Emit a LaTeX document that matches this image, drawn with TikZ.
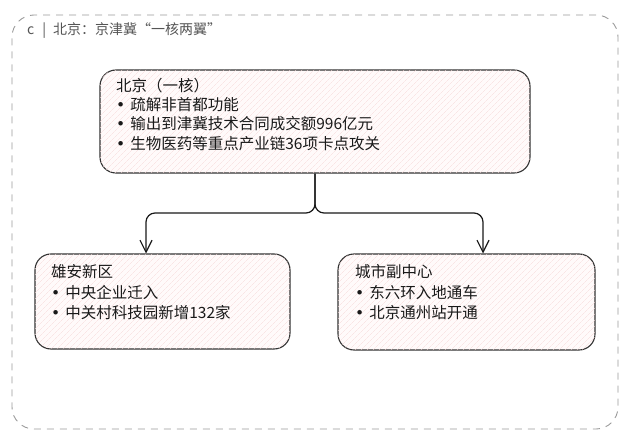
\documentclass[tikz,border=0pt]{standalone}
\usepackage{fontspec}
\setmainfont{Noto Sans CJK SC}
\newfontfamily\bulfont{DejaVu Sans}
\newcommand{\bul}{{\bulfont •}\hspace{5pt}}
\usetikzlibrary{arrows.meta,patterns.meta,calc}
\definecolor{boxline}{HTML}{333333}
\definecolor{hatch}{HTML}{F7DADA}
\definecolor{boxfill}{HTML}{FFFAFA}
\definecolor{frame}{HTML}{9A9A9A}
\definecolor{titlegray}{HTML}{555555}
\tikzset{
  box/.style={draw=boxline, line width=1.1pt, rounded corners=16pt, fill=boxfill,
    postaction={pattern={Lines[angle=45,distance=4pt,line width=0.4pt]}, pattern color=hatch},
    inner sep=0pt},
  boxtext/.style={anchor=north west, inner sep=0pt, align=left, text=black!90,
    font=\fontsize{15.5}{19.2}\selectfont},
  boxtextb/.style={boxtext, font=\fontsize{15.5}{20.5}\selectfont},
  conn/.style={draw=black!90, line width=1.2pt, rounded corners=9pt,
    -{Straight Barb[length=12pt,width=12pt,line width=1.2pt]}},
}
\begin{document}
\begin{tikzpicture}[x=1pt,y=-1pt]
\useasboundingbox (0,0) rectangle (628,435);
\node[draw=frame, dashed, dash pattern=on 7pt off 6pt, line width=0.9pt, rounded corners=22pt,
  minimum width=606pt, minimum height=414pt, inner sep=0pt] (frame) at (315,222) {};
\node[anchor=west, inner sep=0pt, text=titlegray, font=\fontsize{14}{16}\selectfont] (title)
  at (27,31) {c\hspace{8pt}|\hspace{7pt}北京：京津冀“一核两翼”};

\node[box, minimum width=430pt, minimum height=103pt] (core) at (315,121.5) {};
\node[boxtext] (coretext) at (116,78) {北京（一核）\\
\bul 疏解非首都功能\\
\bul 输出到津冀技术合同成交额996亿元\\
\bul 生物医药等重点产业链36项卡点攻关};

\node[box, minimum width=255pt, minimum height=95pt] (xiong) at (162.5,301.5) {};
\node[boxtextb] (xiongtext) at (51,264.5) {雄安新区\\
\bul 中央企业迁入\\
\bul 中关村科技园新增132家};

\node[box, minimum width=257pt, minimum height=96pt] (sub) at (466.5,302) {};
\node[boxtextb] (subtext) at (355,264.5) {城市副中心\\
\bul 东六环入地通车\\
\bul 北京通州站开通};

\coordinate (la) at (146,253.5);
\coordinate (ra) at (483,253.5);
\draw[conn] (core.south) |- (146,213) -- (la);
\draw[conn] (core.south) |- (483,213) -- (ra);
\end{tikzpicture}
\end{document}
